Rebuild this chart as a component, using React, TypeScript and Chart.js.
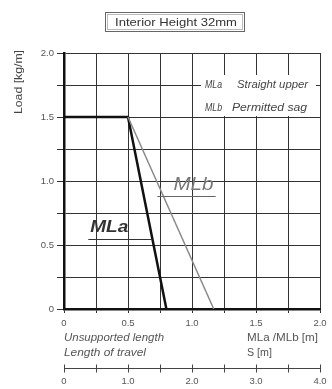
import React, { useEffect, useRef } from "react";
import { Chart, registerables } from "chart.js";

Chart.register(...registerables);

// ---- data ----
const mlaX = [0, 0.5, 0.8];
const mlaY = [1.5, 1.5, 0];
const mlbX = [0.5, 1.17];
const mlbY = [1.5, 0];
const xTickValues = [0, 0.5, 1.0, 1.5, 2.0];
const yTickValues = [0, 0.5, 1.0, 1.5, 2.0];
const sTickValues = [0, 1, 2, 3, 4];
const titleText = "Interior Height 32mm";
const yTitle = "Load [kg/m]";
const legendRows = [
  ["MLa", "Straight upper"],
  ["MLb", "Permitted sag"],
];
const seriesNames = ["MLa", "MLb"];

const FONT = "'Liberation Sans', Arial, sans-serif";

const fmt = (v: number) => (v === 0 ? "0" : v.toFixed(1));
const isIn = (arr: number[], v: number) => arr.some((a) => Math.abs(a - v) < 1e-6);

const xAtY = (xs: number[], ys: number[], y: number) => {
  for (let i = 0; i < xs.length - 1; i++) {
    const y0 = ys[i], y1 = ys[i + 1];
    if ((y - y0) * (y - y1) <= 0 && y0 !== y1) {
      return xs[i] + ((y - y0) / (y1 - y0)) * (xs[i + 1] - xs[i]);
    }
  }
  return xs[xs.length - 1];
};

// draw text stretched horizontally to a target width
const fitText = (ctx: CanvasRenderingContext2D, text: string, x: number, y: number, w: number, align: "left" | "center") => {
  const m = ctx.measureText(text).width;
  const k = w / m;
  ctx.save();
  ctx.textAlign = "left";
  const left = align === "center" ? x - w / 2 : x;
  ctx.translate(left, y);
  ctx.scale(k, 1);
  ctx.fillText(text, 0, 0);
  ctx.restore();
};

const decoPlugin = {
  id: "deco",
  afterDraw(chart: any) {
    const ctx = chart.ctx as CanvasRenderingContext2D;
    const xs = chart.scales.x;
    const ys = chart.scales.y;
    const s2 = chart.scales.x2;
    const area = chart.chartArea;
    ctx.save();

    // title box
    ctx.strokeStyle = "#666";
    ctx.lineWidth = 1;
    ctx.strokeRect(105.5, 12.5, 139, 19);
    ctx.strokeStyle = "#bbb";
    ctx.strokeRect(107.5, 14.5, 135, 15);
    ctx.fillStyle = "#333";
    ctx.font = `11px ${FONT}`;
    ctx.textBaseline = "middle";
    fitText(ctx, titleText, 176, 22.5, 122, "center");

    // y title
    ctx.save();
    ctx.translate(19, 82);
    ctx.rotate(-Math.PI / 2);
    ctx.font = `10px ${FONT}`;
    ctx.fillStyle = "#444";
    fitText(ctx, yTitle, 0, 0, 64, "center");
    ctx.restore();

    // legend box
    const y175 = ys.getPixelForValue(1.75);
    const y15 = ys.getPixelForValue(1.5);
    ctx.fillStyle = "#fff";
    ctx.fillRect(201, y175 - 10, 115, y15 - (y175 - 10) - 1);
    ctx.fillStyle = "#444";
    ctx.font = `italic 10px ${FONT}`;
    legendRows.forEach((row, i) => {
      const yy = y175 + i * 23;
      fitText(ctx, row[0], 205, yy, 17, "left");
      if (i === 0) fitText(ctx, row[1], 237, yy, 71, "left");
      else fitText(ctx, row[1], 232, yy, 75, "left");
    });

    // MLa label
    const uA = 0.547;
    const uAy = ys.getPixelForValue(uA);
    ctx.fillStyle = "#333";
    ctx.font = `bold italic 17px ${FONT}`;
    ctx.textBaseline = "alphabetic";
    fitText(ctx, seriesNames[0], xs.getPixelForValue(0.205), ys.getPixelForValue(0.6), 38, "left");
    ctx.strokeStyle = "#333";
    ctx.lineWidth = 1;
    ctx.beginPath();
    ctx.moveTo(xs.getPixelForValue(0.19), Math.round(uAy) + 0.5);
    ctx.lineTo(xs.getPixelForValue(xAtY(mlaX, mlaY, uA)), Math.round(uAy) + 0.5);
    ctx.stroke();

    // MLb label
    const uB = 0.883;
    const uBy = ys.getPixelForValue(uB);
    ctx.fillStyle = "#777";
    ctx.font = `italic 18px ${FONT}`;
    fitText(ctx, seriesNames[1], xs.getPixelForValue(0.855), ys.getPixelForValue(0.93), 40, "left");
    ctx.strokeStyle = "#666";
    ctx.beginPath();
    ctx.moveTo(xs.getPixelForValue(xAtY(mlbX, mlbY, uB)) - 6, Math.round(uBy) + 0.5);
    ctx.lineTo(xs.getPixelForValue(1.185), Math.round(uBy) + 0.5);
    ctx.stroke();

    // bottom texts
    ctx.fillStyle = "#555";
    ctx.textBaseline = "middle";
    ctx.font = `italic 10px ${FONT}`;
    fitText(ctx, "Unsupported length", area.left, 338, 100, "left");
    fitText(ctx, "Length of travel", area.left, 353, 82, "left");
    ctx.font = `10px ${FONT}`;
    fitText(ctx, "MLa /MLb [m]", 247, 338, 71, "left");
    fitText(ctx, "S [m]", 247, 353, 25, "left");

    // crossing ticks on S axis
    ctx.strokeStyle = "#444";
    ctx.lineWidth = 1;
    const by = s2.top;
    s2.ticks.forEach((t: any) => {
      const px = Math.round(s2.getPixelForValue(t.value)) + 0.5;
      ctx.beginPath();
      ctx.moveTo(px, by - 3.5);
      ctx.lineTo(px, by + 4.5);
      ctx.stroke();
    });

    ctx.restore();
  },
};

export default function App() {
  const ref = useRef<HTMLCanvasElement | null>(null);
  useEffect(() => {
    if (!ref.current) return;
    const tickFont = { family: FONT, size: 9.5 };
    const chart = new Chart(ref.current, {
      type: "line",
      data: {
        datasets: [
          {
            label: seriesNames[1],
            data: mlbX.map((x, i) => ({ x, y: mlbY[i] })),
            borderColor: "#8a8a8a",
            borderWidth: 1.5,
            pointRadius: 0,
            tension: 0,
          },
          {
            label: seriesNames[0],
            data: mlaX.map((x, i) => ({ x, y: mlaY[i] })),
            borderColor: "#111",
            borderWidth: 2.5,
            pointRadius: 0,
            tension: 0,
          },
        ],
      },
      options: {
        animation: false,
        responsive: false,
        maintainAspectRatio: false,
        layout: { padding: { top: 53, right: 12, left: 0, bottom: 0 } },
        plugins: {
          legend: { display: false },
          tooltip: { enabled: false },
          title: { display: false },
        },
        scales: {
          x: {
            type: "linear",
            position: "bottom",
            weight: 0,
            min: 0,
            max: 2,
            ticks: {
              stepSize: 0.25,
              autoSkip: false,
              maxRotation: 0,
              padding: 5,
              color: "#555",
              font: tickFont,
              callback: (v: any) => (isIn(xTickValues, Number(v)) ? fmt(Number(v)) : ""),
            },
            grid: { color: "#333", lineWidth: 1, tickLength: 4, tickColor: "#333" },
            border: { color: "#111", width: 2.5 },
            afterFit: (s: any) => {
              s.height = 59;
            },
          },
          x2: {
            type: "linear",
            position: "bottom",
            weight: 1,
            min: 0,
            max: 4,
            ticks: {
              stepSize: 0.5,
              autoSkip: false,
              maxRotation: 0,
              padding: 0,
              color: "#555",
              font: tickFont,
              callback: (v: any) => (isIn(sTickValues, Number(v)) ? fmt(Number(v)) : ""),
            },
            grid: { display: false, drawTicks: true, tickLength: 8 },
            border: { display: true, color: "#444", width: 1 },
            afterFit: (s: any) => {
              s.height = 21;
            },
          },
          y: {
            type: "linear",
            min: 0,
            max: 2,
            ticks: {
              stepSize: 0.25,
              autoSkip: false,
              padding: 3,
              color: "#555",
              font: tickFont,
              callback: (v: any) => (isIn(yTickValues, Number(v)) ? fmt(Number(v)) : ""),
            },
            grid: { color: "#333", lineWidth: 1, tickLength: 7, tickColor: "#333" },
            border: { color: "#111", width: 2.5 },
            afterFit: (s: any) => {
              s.width = 64;
            },
          },
        },
      } as any,
      plugins: [decoPlugin],
    });
    return () => chart.destroy();
  }, []);
  return (
    <div style={{ position: "fixed", left: 0, top: 0, width: 332, height: 389, background: "#fff" }}>
      <canvas ref={ref} width={332} height={389} style={{ display: "block", width: 332, height: 389 }} />
    </div>
  );
}
